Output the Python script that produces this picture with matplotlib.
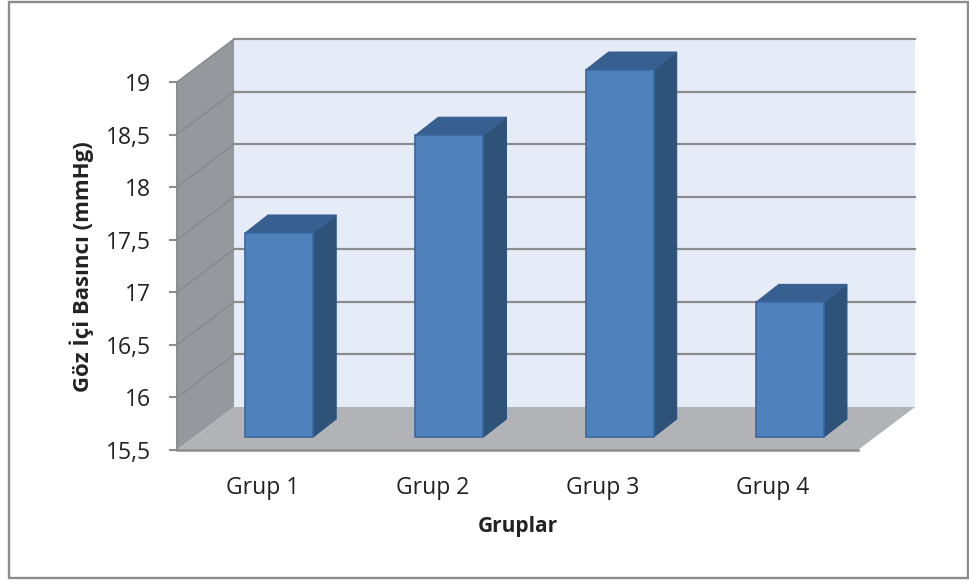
import matplotlib
matplotlib.use('Agg')
import matplotlib.pyplot as plt
from matplotlib.patches import Polygon, Rectangle

groups = ['Grup 1', 'Grup 2', 'Grup 3', 'Grup 4']
pressure = [17.44, 18.37, 18.99, 16.78]
ticks = [15.5, 16, 16.5, 17, 17.5, 18, 18.5, 19]
tick_labels = ['15,5', '16', '16,5', '17', '17,5', '18', '18,5', '19']

W, H = 969, 583
ymin, ymax = 15.5, 19

plt.rcParams['font.family'] = ['Open Sans', 'DejaVu Sans']
fig = plt.figure(figsize=(W / 100, H / 100), dpi=100)
fig.patch.set_facecolor('white')

# chart frame
fig.add_artist(Rectangle((8.5 / W, 1 - 578 / H), 959.5 / W, 576 / H, transform=fig.transFigure,
                         fill=False, ec='#8c8c8c', lw=1.7))

# front plane of the 3d box, everything else is offset from it
ax = fig.add_axes([177 / W, 1 - 450 / H, 681 / W, 368 / H])
ax.set_xlim(0, 4)
ax.set_ylim(ymin, ymax)
ax.patch.set_visible(False)
for s in ax.spines.values():
    s.set_visible(False)

wall_dx, wall_dy = 0.335, 0.409    # box depth in data units
bar_dx, bar_dy = 0.135, 0.171      # bar depth
bar_x, bar_y = 0.1, 0.124          # bar front face sits a little inside the box
bar_w = 0.4

grid_c = '#8c8c8c'
text_c = '#222222'

def face(pts, color, z, ec='none', lw=0):
    ax.add_patch(Polygon(pts, closed=True, fc=color, ec=ec, lw=lw, zorder=z, clip_on=False))

# back wall, side wall, floor
face([(wall_dx, ymin + wall_dy), (4 + wall_dx, ymin + wall_dy), (4 + wall_dx, ymax + wall_dy),
      (wall_dx, ymax + wall_dy)], '#e6ecf7', 1)
face([(0, ymin), (wall_dx, ymin + wall_dy), (wall_dx, ymax + wall_dy), (0, ymax)], '#95989c', 1)
face([(0, ymin), (4, ymin), (4 + wall_dx, ymin + wall_dy), (wall_dx, ymin + wall_dy)], '#b1b3b7', 1)

# gridlines run along the wall then across the back
for t in ticks:
    if t > ymin:
        ax.plot([0, wall_dx], [t, t + wall_dy], color='#85888c', lw=1, zorder=2, clip_on=False)
        ax.plot([wall_dx, 4 + wall_dx], [t + wall_dy, t + wall_dy], color=grid_c, lw=1.6, zorder=2,
                clip_on=False)
ax.plot([0, 4], [ymin, ymin], color=grid_c, lw=1.8, zorder=3, clip_on=False)
ax.plot([0, 0], [ymin, ymax], color=grid_c, lw=1.5, zorder=3, clip_on=False)

# bars, the front face starts from the raised floor line
for i, v in enumerate(pressure):
    x0 = i + 0.5 - bar_w / 2 + bar_x
    x1 = x0 + bar_w
    y0 = ymin + bar_y
    top = v + bar_y
    ax.bar(x0 + bar_w / 2, top - y0, bar_w, bottom=y0, color='#4f81bd', edgecolor='#3a689f', lw=1.2,
           zorder=5, clip_on=False)
    face([(x1, y0), (x1 + bar_dx, y0 + bar_dy), (x1 + bar_dx, top + bar_dy), (x1, top)], '#2f5279', 4,
         ec='#2f5279', lw=0.8)
    face([(x0, top), (x1, top), (x1 + bar_dx, top + bar_dy), (x0 + bar_dx, top + bar_dy)], '#375f90', 4,
         ec='#375f90', lw=0.8)

ax.set_yticks(ticks)
ax.set_yticklabels(tick_labels, fontsize=16.5, color=text_c)
ax.tick_params(axis='y', length=6, width=1.5, color=grid_c, pad=12.5)
ax.set_xticks([i + 0.5 for i in range(4)])
ax.set_xticklabels(groups, fontsize=16.5, color=text_c)
ax.tick_params(axis='x', length=0, pad=18.5)
ax.set_xlabel('Gruplar', fontsize=15, fontweight='bold', color=text_c, va='center')
ax.xaxis.set_label_coords(0.5, -0.207)
ax.set_ylabel('Göz İçi Basıncı (mmHg)', fontsize=16, fontweight='bold', color=text_c, va='center')
ax.yaxis.set_label_coords(-0.1395, 0.497)

fig.savefig('out.png', dpi=100)
